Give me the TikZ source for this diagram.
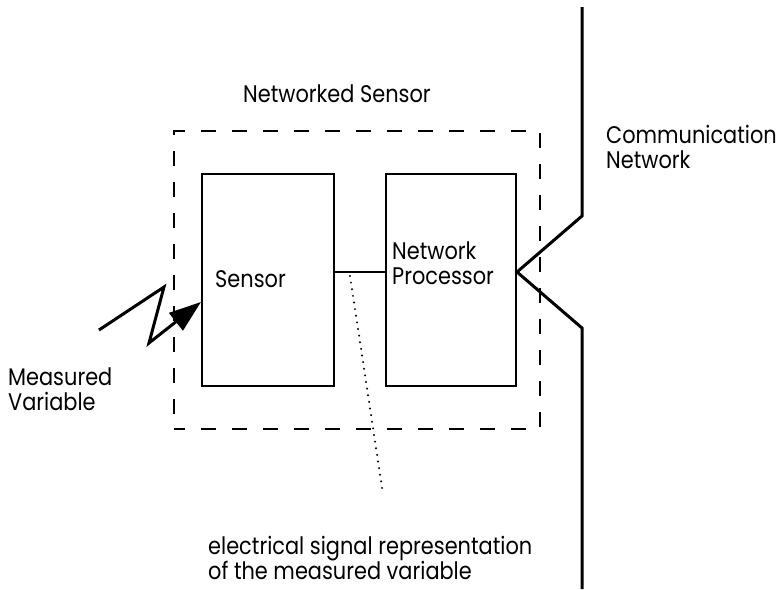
\documentclass[tikz,border=0pt]{standalone}
\usepackage{fontspec}
\setmainfont{Poppins}[FakeStretch=0.87]
\usetikzlibrary{arrows.meta}
\begin{document}
\begin{tikzpicture}[x=1pt,y=-1pt,
  blockbox/.style={draw,line width=2pt,minimum height=212pt,inner sep=0pt,anchor=north west},
  lbl/.style={font=\fontsize{24}{25}\selectfont,inner sep=0pt,align=left,anchor=base west},
  heavy/.style={line width=3pt}]
\useasboundingbox (0,0) rectangle (776,589);
% dashed enclosure
\node[draw,line width=2pt,dash pattern=on 15pt off 16pt,dash phase=4pt,minimum width=366pt,minimum height=298pt,inner sep=0pt,anchor=north west] (ns) at (173,130) {};
\node[blockbox,minimum width=132pt] (sensor) at (201,173) {};
\node[blockbox,minimum width=130pt] (proc) at (385,173) {};
\node[lbl] (sensorlbl) at (215,287) {Sensor};
\node[lbl] (proclbl) at (392,284) {Network\\Processor};
\node[lbl] (nslbl) at (243,102) {Networked Sensor};
\node[lbl] (cnlbl) at (606,168) {Communication\\Network};
\node[lbl] (mvlbl) at (8,410) {Measured\\Variable};
\node[lbl] (eslbl) at (208,579) {electrical signal representation\\of the measured variable};
% link between blocks
\draw[line width=2pt] (sensor.east |- 0,272) -- (proc.west |- 0,272);
% dotted pointer
\coordinate (d1) at (350,276);
\coordinate (d2) at (383,494);
\draw[line width=2.2pt,dash pattern=on 0pt off 6.7pt,line cap=round] (d1) -- (d2);
% communication network
\coordinate (n0) at (582,7);
\coordinate (n1) at (582,216);
\coordinate (n2) at (proc.east |- 0,272);
\coordinate (n3) at (582,328);
\coordinate (n4) at (582,589);
\draw[heavy] (n0) -- (n1) -- (n2) -- (n3) -- (n4);
% measured variable lightning
\coordinate (z0) at (99,330);
\coordinate (z1) at (164,287);
\coordinate (z2) at (149,343);
\draw[heavy,-{Triangle[length=32pt,width=22pt]}] (z0) -- (z1) -- (z2) -- (sensor.west |- 0,302);
\end{tikzpicture}
\end{document}
